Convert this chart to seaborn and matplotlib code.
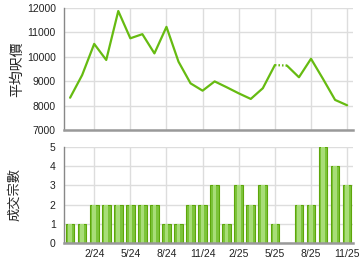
import matplotlib
matplotlib.use("Agg")
import matplotlib.pyplot as plt
import seaborn as sns
import pandas as pd
import numpy as np

months = ["12/23","1/24","2/24","3/24","4/24","5/24","6/24","7/24","8/24","9/24","10/24","11/24",
          "12/24","1/25","2/25","3/25","4/25","5/25","6/25","7/25","8/25","9/25","10/25","11/25"]
avg_price = [8320, 9250, 10530, 9870, 11880, 10760, 10930, 10140, 11230, 9800, 8910, 8610,
             8990, 8750, 8500, 8270, 8710, 9660, 9640, 9160, 9920, 9090, 8230, 8010]
deals = [1, 1, 2, 2, 2, 2, 2, 2, 1, 1, 2, 2, 3, 1, 3, 2, 3, 1, 0, 2, 2, 5, 4, 3]
tick_labels = ["2/24", "5/24", "8/24", "11/24", "2/25", "5/25", "8/25", "11/25"]
dotted_from = "5/25"
dotted_to = "6/25"

sns.set_theme(style="white")
plt.rcParams['font.family'] = ['Liberation Sans', 'Noto Sans CJK TC', 'DejaVu Sans']

df = pd.DataFrame({"month": months, "price": avg_price, "deals": deals})
df["idx"] = np.arange(len(df))
i0 = months.index(dotted_from)
i1 = months.index(dotted_to)

fig = plt.figure(figsize=(3.6, 2.7), dpi=100)
ax1 = fig.add_axes([0.178, 0.519, 0.803, 0.451])
ax2 = fig.add_axes([0.178, 0.100, 0.803, 0.356])

line_color = "#66BB11"
grid_color = "#DDDDDD"

sns.lineplot(data=df.iloc[:i0 + 1], x="idx", y="price", ax=ax1, color=line_color, lw=1.6)
sns.lineplot(data=df.iloc[i0:i1 + 1], x="idx", y="price", ax=ax1, color=line_color, lw=1.6,
             linestyle=(0, (0.7, 0.9)))
sns.lineplot(data=df.iloc[i1:], x="idx", y="price", ax=ax1, color=line_color, lw=1.6)

sns.barplot(data=df, x="month", y="deals", ax=ax2, color="#7CC43A", width=0.72,
            edgecolor="#5DA60A", linewidth=0.8, saturation=1)
hl = df.copy()
sns.barplot(data=hl, x="month", y="deals", ax=ax2, color="#A8DD78", width=0.3,
            linewidth=0, saturation=1)

tick_pos = [months.index(t) for t in tick_labels]
for ax in (ax1, ax2):
    ax.set_xlim(-0.5, 23.5)
    ax.set_xticks(tick_pos)
    ax.grid(True, color=grid_color, lw=1)
    ax.set_axisbelow(True)
    for s in ("top", "right"):
        ax.spines[s].set_visible(False)
    ax.spines["left"].set_color("#888888")
    ax.spines["left"].set_linewidth(1.0)
    ax.spines["bottom"].set_color("#999999")
    ax.spines["bottom"].set_linewidth(1.8)
    ax.tick_params(axis="both", length=0, labelsize=7.5, colors="#222222")
    ax.tick_params(axis="y", pad=6)
    ax.tick_params(axis="x", pad=4)
    ax.set_xlabel("")

ax1.set_ylim(7000, 12000)
ax1.set_yticks(range(7000, 12001, 1000))
ax1.set_xticklabels([])
ax1.set_ylabel("平均呎價", fontsize=10, family=['Noto Sans CJK TC'], labelpad=2)

ax2.set_ylim(0, 5)
ax2.set_yticks(range(0, 6))
ax2.set_xticklabels(tick_labels)
ax2.set_ylabel("成交宗數", fontsize=9.5, family=['Noto Sans CJK TC'], labelpad=21)

fig.savefig("out.png", dpi=100)
